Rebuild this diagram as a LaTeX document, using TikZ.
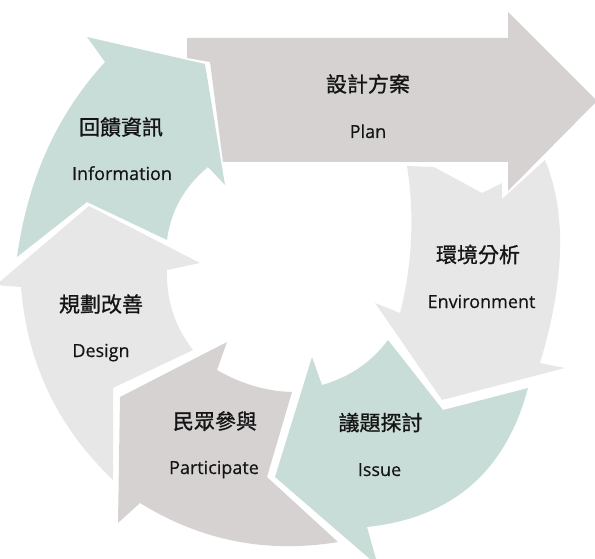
\documentclass[tikz,border=0pt]{standalone}
\usepackage{fontspec}
\setmainfont{Open Sans}
\newfontfamily\cjkfont[FakeBold=0.9]{Noto Sans CJK TC}
\newfontfamily\latfont[FakeBold=0.4]{Open Sans}
\definecolor{cgreen}{RGB}{201,221,216}
\definecolor{cgrey}{RGB}{214,210,210}
\definecolor{clight}{RGB}{232,231,232}
\definecolor{ctext}{RGB}{20,20,20}
\begin{document}
\begin{tikzpicture}[x=1pt,y=-1pt,
  zh/.style={font=\cjkfont\fontsize{21}{24}\selectfont, text=ctext, inner sep=0pt, anchor=base},
  en/.style={font=\latfont\fontsize{18}{22}\selectfont, text=ctext, inner sep=0pt, anchor=base}]
\useasboundingbox (0,0) rectangle (595,559);
\clip (0,0) rectangle (595,559);
% Plan
\fill[cgrey] (187,38) -- (508,38) -- (508,12) -- (597,101) -- (508,191) -- (508,162) -- (223,162) -- (210,62) -- (187,58) -- cycle;
% Information
\fill[cgreen] (17,257) -- (87,202) -- (167,240) .. controls (170.7,211) and (184.3,186.7) .. (208,167) -- (225,185) -- (205,64) -- (87,37) -- (105,62) .. controls (57,114.3) and (27.7,179.3) .. (17,257) -- cycle;
% Environment
\fill[clight] (407,166) -- (434,167) -- (482,193) -- (502,183) -- (502,199) -- (545,160) .. controls (566.7,212.3) and (565,280) .. (540,363) -- (565,368) -- (442,400) -- (375,303) -- (400,313) .. controls (412.3,264.7) and (414.7,215.7) .. (407,166) -- cycle;
% Issue
\fill[cgreen] (388,340) -- (443,410) -- (528,388) .. controls (505.7,471.7) and (452,518) .. (367,527) -- (378,566) -- (275,477) -- (312,357) -- (322,385) .. controls (349.3,377.3) and (371.3,362.3) .. (388,340) -- cycle;
% Participate
\fill[cgrey] (227,342) -- (120,397) -- (118,523) -- (140,503) .. controls (201,540.8) and (267,553.8) .. (338,542) -- (267,477) -- (292,392) .. controls (266.3,391.3) and (241.3,384) .. (217,370) -- cycle;
% Design
\fill[clight] (-4,285) -- (89,206) -- (200,263) -- (167,270) .. controls (166.1,299.8) and (174.7,326.5) .. (193,350) -- (113,388) -- (113,480) .. controls (57.7,427.3) and (27,363) .. (21,287) -- cycle;
% labels
\node[zh] (infozh) at (121,135) {回饋資訊};
\node[en] (infoen) at (122,180) {Information};
\node[zh] (planzh) at (368,92) {設計方案};
\node[en] (planen) at (368,138) {Plan};
\node[zh] (envzh) at (478,262.5) {環境分析};
\node[en] (enven) at (481.5,308) {Environment};
\node[zh] (isszh) at (380.5,430.5) {議題探討};
\node[en] (issen) at (379.5,476) {Issue};
\node[zh] (parzh) at (215,429) {民眾參與};
\node[en] (paren) at (214,474) {Participate};
\node[zh] (deszh) at (101,312) {規劃改善};
\node[en] (desen) at (101,357) {Design};
\end{tikzpicture}
\end{document}
